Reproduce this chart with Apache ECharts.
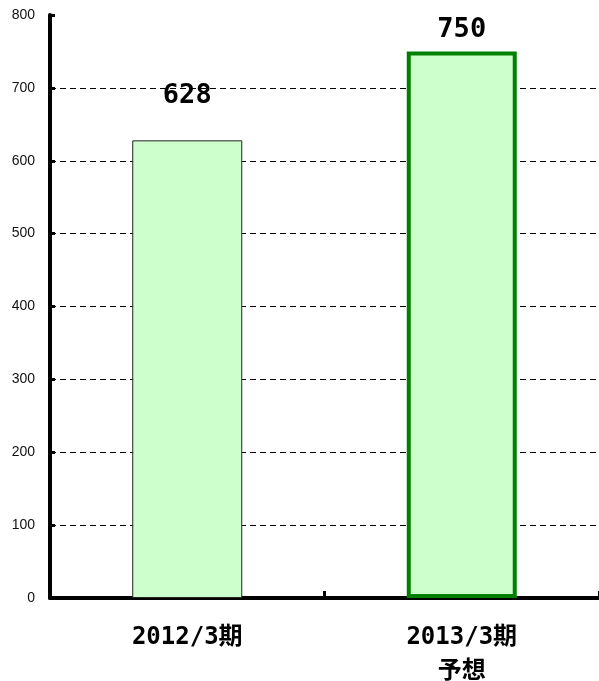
<!DOCTYPE html>
<html><head><meta charset="utf-8">
<script src="https://cdn.jsdelivr.net/npm/echarts@6/dist/echarts.min.js"></script>
<style>html,body{margin:0;padding:0;background:#fff}#c{width:599px;height:681px}</style>
</head><body><div id="c"></div>
<script>
const categories = ['2012/3期', '2013/3期\n予想'];
const values = [628, 750];
const yTicks = [0, 100, 200, 300, 400, 500, 600, 700, 800];

const chart = echarts.init(document.getElementById('c'), null, {renderer: 'canvas'});
const labelFont = '"DejaVu Sans Mono", "Noto Sans CJK JP", monospace';
chart.setOption({
  animation: false,
  grid: {left: 50, right: 0, top: 15, bottom: 83, containLabel: false, outerBoundsMode: 'none'},
  xAxis: {
    type: 'category',
    data: categories,
    axisLine: {lineStyle: {color: '#000', width: 4}},
    axisTick: {show: true, inside: true, length: 7, alignWithLabel: false, interval: 0, lineStyle: {color: '#000', width: 3}},
    axisLabel: {
      color: '#000', fontSize: 24, fontWeight: 'bold', fontFamily: labelFont,
      margin: 23, lineHeight: 34, interval: 0
    }
  },
  yAxis: {
    type: 'value', min: 0, max: 800, interval: 100,
    axisLine: {show: true, lineStyle: {color: '#000', width: 4}},
    axisTick: {show: true, inside: true, length: 5, lineStyle: {color: '#000', width: 3}},
    axisLabel: {color: '#111', fontSize: 14, fontFamily: 'Arial, "Liberation Sans", sans-serif', margin: 15,
      formatter: v => yTicks.includes(v) ? String(v) : ''},
    splitLine: {show: true, lineStyle: {type: [6, 4], width: 1,
      color: ['#000','#000','#000','#000','#000','#000','#000','#000','rgba(0,0,0,0)']}}
  },
  series: [{
    type: 'bar',
    barWidth: 110,
    data: [
      {value: values[0], itemStyle: {color: '#ccffcc', borderColor: '#222', borderWidth: 1},
       label: {distance: 31}},
      {value: values[1], itemStyle: {color: '#ccffcc', borderColor: '#008000', borderWidth: 4},
       label: {distance: 8}}
    ],
    label: {show: true, position: 'top', color: '#000', fontSize: 27, fontWeight: 'bold', fontFamily: labelFont}
  }]
});
</script></body></html>
